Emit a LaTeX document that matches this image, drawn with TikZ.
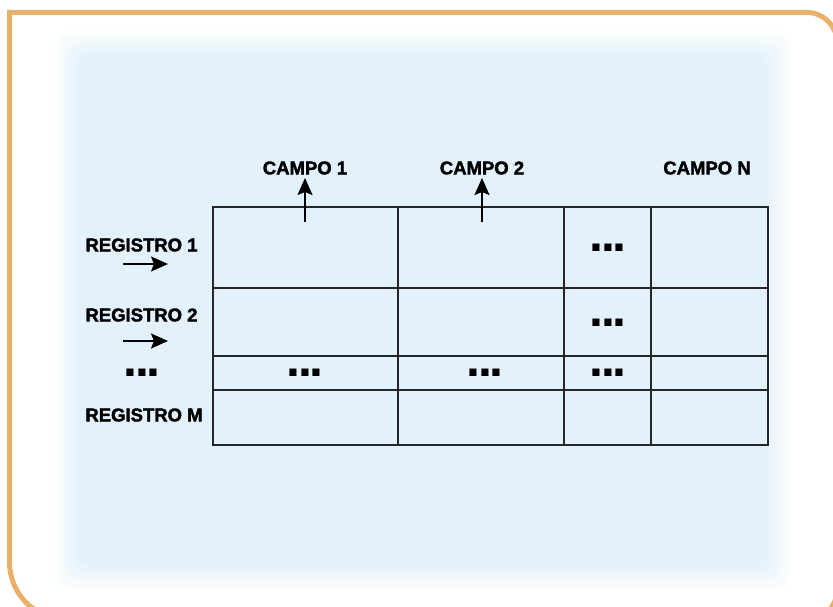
\documentclass[tikz,border=0pt]{standalone}
\usepackage{fontspec}
\setmainfont{Liberation Sans}
\newfontfamily\heavyfont{Liberation Sans Bold}[FakeBold=2]
\usetikzlibrary{arrows.meta}
\definecolor{frameor}{RGB}{233,176,106}
\definecolor{panelblue}{RGB}{226,241,252}
\definecolor{gridc}{RGB}{38,38,38}
\newcommand\bigdots{{\fontsize{50}{50}\selectfont\bfseries .\kern-2.4pt.\kern-2.4pt.}}
\begin{document}
\begin{tikzpicture}[x=1pt,y=-1pt,
  lbl/.style={font=\fontsize{18.5}{20}\heavyfont, inner sep=0pt},
  dotn/.style={inner sep=0pt},
  arr/.style={-{Stealth[length=17pt,width=15pt,inset=3pt]}, line width=1.8pt, black},
  gridl/.style={line width=1.4pt, gridc}]
\useasboundingbox (0,0) rectangle (833,607);
\fill[white] (0,0) rectangle (833,607);
\begin{scope}
\clip (0,0) rectangle (833,607);
\foreach \k in {16,15,...,1}{
  \pgfmathsetmacro\e{-16+2*\k}
  \pgfmathsetmacro\op{1/\k}
  \fill[panelblue, fill opacity=\op, rounded corners=12pt] (70-\e, 47-\e) rectangle (775+\e, 574+\e);
}
\draw[frameor, line width=5pt] (9.5,12.5) [rounded corners=30pt] -- (837,12.5) -- (837,620) [rounded corners=58pt] -- (9.5,620) [sharp corners] -- cycle;
\end{scope}
% table grid
\draw[gridl] (213,207) rectangle (768,445);
\draw[gridl] (398,207) -- (398,445);
\draw[gridl] (564,207) -- (564,445);
\draw[gridl] (651,207) -- (651,445);
\draw[gridl] (213,288) -- (768,288);
\draw[gridl] (213,356) -- (768,356);
\draw[gridl] (213,390) -- (768,390);
% labels
\node[lbl] (c1) at (305,168) {CAMPO 1};
\node[lbl] (c2) at (482,168) {CAMPO 2};
\node[lbl] (cn) at (707,168) {CAMPO N};
\node[lbl] (r1) at (141.5,245) {REGISTRO 1};
\node[lbl] (r2) at (141.5,315) {REGISTRO 2};
\node[lbl] (rm) at (144,415) {REGISTRO M};
% dots
\node[dotn] (d0) at (142,373) {\bigdots};
\node[dotn] (d1) at (305,373) {\bigdots};
\node[dotn] (d2) at (485,373) {\bigdots};
\node[dotn] (d3) at (608,248) {\bigdots};
\node[dotn] (d4) at (608,323) {\bigdots};
\node[dotn] (d5) at (608,373) {\bigdots};
% arrows
\coordinate (a1s) at (305,222); \coordinate (a1e) at (305,178);
\coordinate (a2s) at (482,222); \coordinate (a2e) at (482,178);
\coordinate (b1s) at (123,264); \coordinate (b1e) at (168,264);
\coordinate (b2s) at (123,341); \coordinate (b2e) at (168,341);
\draw[arr] (a1s) -- (a1e);
\draw[arr] (a2s) -- (a2e);
\draw[arr] (b1s) -- (b1e);
\draw[arr] (b2s) -- (b2e);
\end{tikzpicture}
\end{document}
